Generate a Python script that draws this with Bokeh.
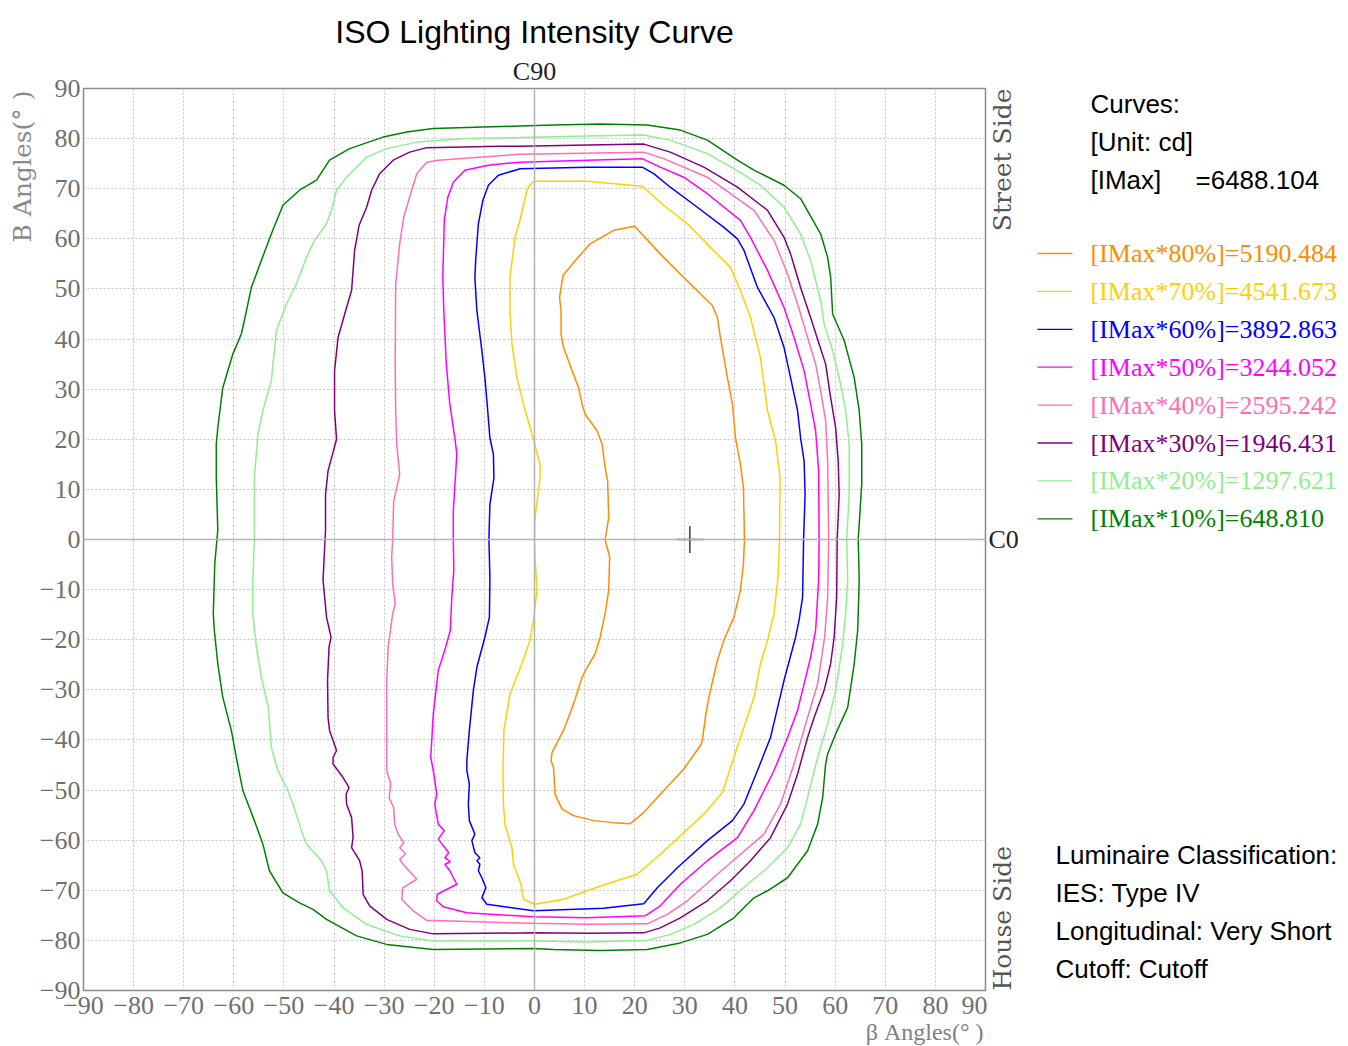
import math
from bokeh.plotting import figure
from bokeh.layouts import row
from bokeh.models import FixedTicker, Span, Title, ColumnDataSource
from bokeh.core.properties import value
from bokeh.embed import file_html
from bokeh.resources import INLINE

# ---------------- data ----------------
TITLE = "ISO Lighting Intensity Curve"
TOP_LABEL = "C90"
RIGHT_LABEL = "C0"
Y_LABEL = "B Angles(° )"
X_LABEL = "β Angles(° )"
SIDE_TOP = "Street Side"
SIDE_BOTTOM = "House Side"
TICKS = list(range(-90, 100, 10))
TICK_LABELS = {t: str(t).replace("-", "\u2212") for t in TICKS}

LEVELS = ["80%", "70%", "60%", "50%", "40%", "30%", "20%", "10%"]
LEVEL_VALUES = ["5190.484", "4541.673", "3892.863", "3244.052",
                "2595.242", "1946.431", "1297.621", "648.810"]
IMAX_VALUE = "6488.104"
IMAX_BETA = [31]
IMAX_B = [0]
INFO_LINES = ["Luminaire Classification:", "IES: Type IV", "Longitudinal: Very Short", "Cutoff:  Cutoff"]

C80_BETA = [20, 25.1, 29.8, 35.5, 36.5, 37.1, 38.5, 39.5, 40.1, 41.1, 41.7, 41.9, 41.7, 41.1, 39.8, 37.8,
            36.5, 34.8, 34.1, 33.5, 33.1, 29.8, 25.8, 21.8, 19.1, 15.8, 11.8, 7.8, 5.5, 4.1, 3.8, 3.3, 3.5,
            5.8, 7.8, 9.5, 10.5, 12.1, 13.1, 14.1, 14.8, 15, 14.3, 14.1, 14.8, 14.6, 14.1, 13.5, 12.5, 10.1,
            9.5, 8.8, 7.5, 5.8, 5.3, 5.3, 5, 5.7, 7.8, 11.1, 15.8, 20]
C80_B = [62.5, 57, 52.3, 46.7, 44.3, 40.3, 32.3, 27, 20.3, 15, 10.3, 0, -4.8, -10.1, -15.5, -20.1,
         -24.1, -31.5, -35.5, -40.1, -41.1, -45.8, -50.1, -54.5, -56.7, -56.5, -56.1, -55.1, -53.8, -50.8,
         -45.5, -44.1, -42.5, -38.1, -32.8, -27.5, -25.5, -22.8, -19.5, -14.8, -10.1, -3.5, -0.8, 0, 4.3,
         11.7, 14.3, 19, 21.7, 25, 27, 30.3, 33.7, 38.3, 41, 45.7, 48.3, 52.7, 55.3, 59, 61.7, 62.5]

C70_BETA = [-0.2, 10.5, 21.5, 25.8, 30.5, 35.1, 39.1, 41.1, 43.1, 45.1, 46.5, 48.1, 49, 48.9, 48.6, 47.8,
            46.5, 45.1, 43.8, 41.1, 37.5, 33.8, 29.8, 25.1, 20.5, 15.1, 10.5, 5.8, 0.1, -2.2, -2.7, -4.2,
            -4.5, -5.9, -6.2, -6.3, -6.1, -4.9, -2.5, -0.9, -0.2, 0.5, 0.1, 0, 0.1, 1.1, 1.1, -0.2, -2.2,
            -3.5, -4.5, -4.9, -4.9, -4.3, -3.9, -2.9, -1.5, -0.9, -0.2]
C70_B = [71.5, 71.5, 70.5, 66.7, 63, 58.3, 54.3, 49.7, 44.3, 36.3, 25.7, 19.7, 12.3, 0, -7.5, -14.8,
         -20.1, -24.8, -31.5, -39.5, -50.5, -54.8, -58.5, -62.8, -66.8, -68.5, -70.1, -71.8, -72.8, -71.8,
         -68.8, -64.8, -61.5, -56.8, -52.8, -46.1, -38.1, -30.8, -24.8, -20.1, -16.1, -10.1, -3.5, 0, 4.3,
         12.3, 15, 20, 27, 32.3, 39, 45.7, 52.3, 57, 60.3, 63.7, 69.7, 70.7, 71.5]

C60_BETA = [-2.9, 10.5, 21.5, 23.8, 27.1, 32.5, 37.8, 40.5, 41.8, 44.5, 47.8, 49.8, 51.1, 52.5, 53.1, 53.8,
            54, 53.7, 53.5, 52.8, 52.1, 49.8, 47.1, 44.5, 41.8, 39.5, 34.5, 28.5, 24.5, 21.8, 13.8, -0.2,
            -9.5, -10.5, -9.7, -10.5, -11.2, -10.9, -11.5, -10.9, -11.9, -12.5, -11.9, -13, -13.2, -13,
            -13.5, -13.5, -13, -12.2, -11.5, -9.9, -9, -8.9, -9, -9.1, -8.9, -8.1, -8.2, -8.9, -9.5, -9.9,
            -10.5, -11.5, -11.9, -11.7, -11.2, -10.3, -9.2, -7.2, -3.5, -2.9]
C60_B = [74, 74.3, 74.3, 73, 70.3, 66.3, 62.3, 60, 57.7, 50.3, 44.3, 38.3, 32.3, 25.7, 20.3, 15.7,
         9, 0, -11.5, -16.1, -19.5, -28.1, -39.5, -46.1, -52.8, -56.1, -60.1, -65.5, -69.5, -72.7, -73.6,
         -74.1, -72.8, -71.5, -69.5, -67.5, -66.1, -64.8, -64.1, -63.5, -62.5, -60.1, -58.8, -56.1, -52.8,
         -48.8, -46.1, -44.1, -38.1, -30.1, -25.5, -19.5, -15.5, -8.1, -3.5, 0, 7, 12.3, 17, 20.3, 27.7,
         32.3, 37.7, 45.7, 52.3, 56.3, 63, 67.7, 70.7, 72.7, 73.8, 74]

C50_BETA = [-2.9, 10.5, 21.5, 25.1, 29.8, 34.5, 41.1, 43.1, 46.5, 49.8, 51.8, 53.8, 55.1, 56.1, 56.7, 56.8,
            56.7, 56.1, 55.1, 53.8, 52.5, 50.5, 47.8, 43.8, 40.5, 34.5, 29.1, 25.1, 22.1, 10.5, -0.2,
            -13.5, -18.2, -19.5, -19.4, -15.5, -16.9, -17.9, -16.8, -17.9, -17.1, -19.2, -18, -19.2, -19.9,
            -19.5, -20.2, -20.7, -20.2, -19.2, -17.9, -16.8, -16.5, -16.1, -16.2, -16.2, -15.5, -15.9, -16.9,
            -17.6, -18.1, -18.3, -18, -17.3, -16.2, -13.9, -9.2, -2.9]
C50_B = [75.3, 75.7, 76, 74.3, 72.3, 69, 63.7, 60.3, 53.7, 46.3, 40.3, 33.7, 27, 21.7, 13.7, 0,
         -8.1, -18.1, -23.5, -28.8, -34.1, -39.5, -46.1, -54.1, -59.5, -64.1, -68.8, -73.1, -75.1, -75.5,
         -75.3, -74.5, -73.3, -72.1, -70.8, -68.8, -66.1, -64.8, -64.3, -63.5, -62.5, -59.8, -58.1, -56.8,
         -52.8, -50.8, -46.1, -43.5, -34.8, -26.1, -22.1, -18.1, -11.5, -6.1, 0, 5.7, 17, 20.3, 27, 35,
         45.7, 52.3, 63.7, 68.3, 71.3, 73.7, 74.7, 75.3]

C40_BETA = [-2.9, 21.8, 25.8, 34.5, 43.8, 47.8, 50.5, 52.5, 54.5, 56.1, 57.1, 58.1, 58.5, 58.7, 58.5, 57.9,
            56.5, 54.5, 51.8, 49.1, 45.8, 41.1, 36.5, 30.5, 26.5, 22.5, 10.5, -0.2, -21.5, -24.2, -26.5,
            -26.3, -23.5, -26.2, -26.9, -25.7, -26.9, -26.1, -27.2, -27.9, -28.1, -29, -28.7, -29.5, -29.5,
            -29.5, -29.2, -28.3, -27.8, -28.3, -28.5, -28.3, -28.1, -26.9, -27.5, -27.7, -27.8, -27.7, -26.9,
            -26.1, -24.5, -23.5, -21.5, -19.2, -2.9]
C40_B = [76.9, 77.3, 76, 72.3, 65.7, 59.7, 53, 47, 40.3, 35, 29.7, 23.7, 15.7, 0, -11.5, -19.5,
         -28.8, -35.5, -44.8, -52.8, -58.8, -62.8, -66.8, -72.1, -74.8, -76.7, -76.8, -76.6, -76, -74.1,
         -71.8, -69.5, -67.8, -64.8, -63.8, -62.7, -61.5, -60.5, -58.8, -56.8, -53.5, -51.5, -48.8, -46.1,
         -39.5, -28.1, -21.5, -14.8, -12.8, -8.8, -3.5, 0, 7.7, 13, 19, 25.7, 35, 51, 59, 64.3, 69.7, 73,
         75.3, 75.7, 76.9]

C30_BETA = [-2.9, 21.8, 27.1, 33.8, 40.5, 46.5, 49.8, 51.1, 53.1, 55.1, 56.8, 58.1, 59.1, 60.1, 60.6, 60.8,
            60.4, 60.3, 59.8, 59.1, 57.8, 55.8, 54.5, 52.5, 50.5, 47.1, 43.1, 39.1, 34.5, 29.1, 25.1, 21.8,
            10.5, -0.2, -20.2, -24.9, -29.5, -32.9, -34.2, -34.4, -34.9, -36.5, -36.2, -36.5, -37.5, -37.6,
            -37, -38.2, -40.2, -40.2, -39.5, -40.9, -41.2, -41.3, -41, -40.6, -41.5, -42.2, -41.9, -41.7,
            -41.7, -41.2, -39.5, -39.9, -39.9, -39.2, -37.5, -36.5, -35.9, -35, -33.5, -32.5, -30.9, -28.2,
            -24.9, -21.5, -6.9, -2.9]
C30_B = [78.5, 78.9, 77.3, 74.3, 70.3, 65.7, 60.3, 57, 50.3, 44.3, 39, 35, 28.3, 22.3, 15.7, 9,
         0, -11.5, -19.5, -24.8, -30.1, -35.5, -39.5, -46.8, -52.8, -59.5, -64.1, -68.1, -72.1, -75.5,
         -77.5, -78.5, -78.6, -78.5, -78.7, -77.8, -75.8, -73.1, -70.8, -66.1, -64.1, -61.5, -59.5, -55.5,
         -52.8, -50.8, -49.5, -47.5, -44.8, -43.5, -42.1, -38.1, -35.5, -28.1, -21.5, -19.5, -15.5, -8.1,
         -2.1, 1.9, 9, 13.7, 20, 25.7, 33.7, 40.3, 46.3, 49.7, 57.7, 62.7, 66.3, 69.7, 73, 75.7, 77.3,
         78.2, 78.5, 78.5]

C20_BETA = [-2.9, 10.5, 21.8, 27.1, 34.5, 39.8, 45.1, 49.8, 53.1, 55.1, 57.1, 57.8, 59.5, 61.1, 62.1, 62.8,
            62.8, 62.3, 62.5, 62.1, 61.4, 60.1, 58.5, 56.5, 54.5, 53.1, 50.5, 46.5, 42.5, 37.1, 31.8, 27.1,
            22.5, 10.5, -0.2, -20.2, -26.9, -33.5, -38.2, -40.9, -41.5, -42.5, -45.5, -46.5, -48.2, -49.5,
            -51.2, -52.5, -53.1, -54.5, -55.5, -56.2, -56.2, -55.9, -55.9, -55.2, -54.2, -52.5, -52.2, -51.5,
            -49.5, -47.5, -45.5, -43.9, -41.5, -40.5, -39.5, -37.5, -33.5, -29.5, -23.5, -13.5, -2.9]
C20_B = [80.2, 80.5, 80.7, 79.7, 77, 74, 70.7, 66.3, 61, 55.7, 47.7, 43, 37.7, 31, 25.7, 19,
         9, 0, -8.1, -14.8, -21.5, -30.1, -36.8, -43.5, -51.5, -56.8, -61.5, -65.5, -68.8, -73.5, -76.8,
         -78.8, -80, -80.3, -80.1, -80.1, -79.1, -76.8, -73.5, -70.1, -66.1, -64.1, -60.8, -58.1, -52.8,
         -49.5, -46.1, -41.5, -33.5, -27.5, -21.5, -14.8, -8.1, 0, 12.3, 21, 25.7, 31.7, 35, 41.7, 47, 51,
         56.3, 59.7, 63, 65.7, 69.7, 72.3, 76.3, 78, 79.3, 80, 80.2]

C10_BETA = [-2.9, 3.8, 13.1, 22.5, 29.1, 34.5, 40.5, 43.8, 49.8, 53.1, 57.1, 58.5, 59.1, 59.5, 61.8, 63.8,
            64.8, 65.3, 65.3, 64.6, 64.8, 64.5, 63.8, 62.5, 60.1, 58.5, 58.1, 57.5, 56.5, 54.5, 50.5, 46.5,
            43.8, 39.8, 34.5, 29.1, 22.5, 13.1, 3.8, -0.2, -20.2, -29.5, -35.5, -41.5, -44.2, -46.9, -50.2,
            -52.9, -54.2, -55.9, -58.2, -59.5, -60.5, -62.2, -63.2, -63.9, -64.1, -63.8, -63.2, -63.5, -63.5,
            -63.2, -62.2, -60.2, -58.5, -57.9, -56.5, -54.5, -52.5, -50.2, -46.9, -43.5, -40.9, -36.9, -30.2,
            -25.5, -20.2, -10.2, -2.9]
C10_B = [82.5, 82.7, 82.9, 82.7, 81.7, 79.7, 75.7, 73.7, 70.7, 68, 61, 56.3, 52.3, 45, 39.7, 32.3,
         25.7, 19, 11, 0, -8.1, -18.1, -24.8, -33.5, -38.8, -42.8, -44.8, -51.5, -56.8, -62.1, -67.5, -70.1,
         -71.5, -75.5, -78.8, -80.5, -81.8, -82, -81.8, -81.6, -81.8, -80.8, -79.1, -75.8, -73.8, -72.5,
         -70.5, -66.1, -60.8, -56.1, -50.1, -43.5, -38.1, -31.5, -24.8, -18.1, -14.8, -4.8, 1.9, 12.3, 19,
         22.3, 30.3, 37, 41, 43.7, 50.3, 55.7, 61, 66.7, 69.7, 71.7, 75.7, 78, 80.3, 81.3, 82, 82.3, 82.5]

CURVES_BETA = [C80_BETA, C70_BETA, C60_BETA, C50_BETA, C40_BETA, C30_BETA, C20_BETA, C10_BETA]
CURVES_B = [C80_B, C70_B, C60_B, C50_B, C40_B, C30_B, C20_B, C10_B]

# ---------------- style ----------------
COLORS = ["#FF8C00", "#FFD000", "#0000FF", "#FF00FF", "#FF6EB4", "#800080", "#90EE90", "#008000"]
SERIF = "Liberation Serif"
WIDE_SERIF = "DejaVu Serif"
SANS = "Liberation Sans"

PAGE_W, PAGE_H = 1348, 1046
BL, BT, BB, BR = 83, 88, 56, 2
FRAME = 902
MAIN_W = BL + FRAME + BR

# ---------------- main chart ----------------
p = figure(width=MAIN_W, height=PAGE_H, x_range=(-90, 90), y_range=(-90, 90),
           output_backend="svg", toolbar_location=None,
           min_border_left=BL, min_border_right=BR, min_border_top=BT, min_border_bottom=BB)
p.background_fill_color = "white"
p.border_fill_color = "white"
p.outline_line_color = "#8c8c8c"
p.outline_line_width = 1.5

p.title.text = TITLE
p.title.text_font = SANS
p.title.text_font_size = "32px"
p.title.text_font_style = "normal"
p.title.text_color = "#000000"
p.title.align = "center"
p.title.standoff = 4

p.add_layout(Title(text=TOP_LABEL, text_font=SERIF, text_font_size="26px", text_font_style="normal",
                   text_color="#222222", align="center", standoff=6), "above")

for ax in (p.xaxis[0], p.yaxis[0]):
    ax.ticker = FixedTicker(ticks=TICKS)
    ax.major_label_overrides = TICK_LABELS
    ax.axis_line_color = None
    ax.major_tick_line_color = None
    ax.minor_tick_line_color = None
    ax.major_tick_out = 0
    ax.major_tick_in = 0
    ax.minor_tick_out = 0
    ax.minor_tick_in = 0
    ax.major_label_text_font = SERIF
    ax.major_label_text_font_size = "26px"
    ax.major_label_text_color = "#707070"
p.xaxis.major_label_standoff = 6
p.yaxis.major_label_standoff = 3

p.add_layout(Title(text=Y_LABEL, text_font=WIDE_SERIF, text_font_size="25px", text_font_style="normal",
                   text_color="#8a8a8a", align="right", standoff=0, offset=2), "left")
p.add_layout(Title(text=X_LABEL, text_font=SERIF, text_font_size="24px", text_font_style="normal",
                   text_color="#808080", align="right", standoff=0, offset=2), "below")

for g in (p.xgrid[0], p.ygrid[0]):
    g.ticker = FixedTicker(ticks=TICKS)
    g.grid_line_color = "#c4c4c4"
    g.grid_line_dash = "2 2"
    g.grid_line_width = 1

p.add_layout(Span(location=0, dimension="height", line_color="#b4b4b4", line_width=1.5))
p.add_layout(Span(location=0, dimension="width", line_color="#b4b4b4", line_width=1.5))

for xs, ys, col in zip(CURVES_BETA, CURVES_B, COLORS):
    p.line(xs, ys, line_color=col, line_width=1.5)

p.scatter(IMAX_BETA, IMAX_B, marker="cross", size=27, line_color="#404040", line_width=1.5)

# ---------------- right-hand text panel (page pixel coordinates; frame aligned to main frame) ----------------
s = figure(width=PAGE_W - MAIN_W, height=PAGE_H, x_range=(MAIN_W, PAGE_W), y_range=(BT + FRAME, BT),
           output_backend="svg", toolbar_location=None,
           min_border_left=0, min_border_right=0, min_border_top=BT, min_border_bottom=BB)
s.axis.visible = False
s.grid.visible = False
s.outline_line_color = None
s.background_fill_color = "white"
s.border_fill_color = "white"


def stext(texts, xs, ys, size, colors, font, align="left", angle=0.0):
    src = ColumnDataSource(dict(x=xs, y=ys, t=texts, c=colors))
    s.text(x="x", y="y", text="t", text_color="c", source=src, text_font=value(font),
           text_font_size=value(f"{size}px"), text_align=value(align),
           text_baseline=value("middle"), angle=angle)


stext([RIGHT_LABEL], [988], [539], 26, ["#222222"], SERIF)
stext([SIDE_TOP], [1002], [88], 25, ["#555555"], WIDE_SERIF, "right", math.pi / 2)
stext([SIDE_BOTTOM], [1002], [990], 25, ["#555555"], WIDE_SERIF, "left", math.pi / 2)

stext(["Curves:", "[Unit: cd]", "[IMax]", "=" + IMAX_VALUE], [1090, 1090, 1090, 1195],
      [103, 141, 179, 179], 26, ["#000000"] * 4, SANS)

rows_y = [253 + i * 37.9 for i in range(len(LEVELS))]
s.segment(x0=[1037] * len(LEVELS), y0=rows_y, x1=[1072] * len(LEVELS), y1=rows_y,
          line_color=COLORS, line_width=1.3)
stext([f"[IMax*{lvl}]={val}" for lvl, val in zip(LEVELS, LEVEL_VALUES)],
      [1090] * len(LEVELS), rows_y, 26, COLORS, SERIF)

stext(INFO_LINES, [1055] * 4, [854, 892, 930, 968], 26, ["#000000"] * 4, SANS)

layout = row(p, s, spacing=0)
open("out.html", "w").write(file_html(layout, INLINE))
